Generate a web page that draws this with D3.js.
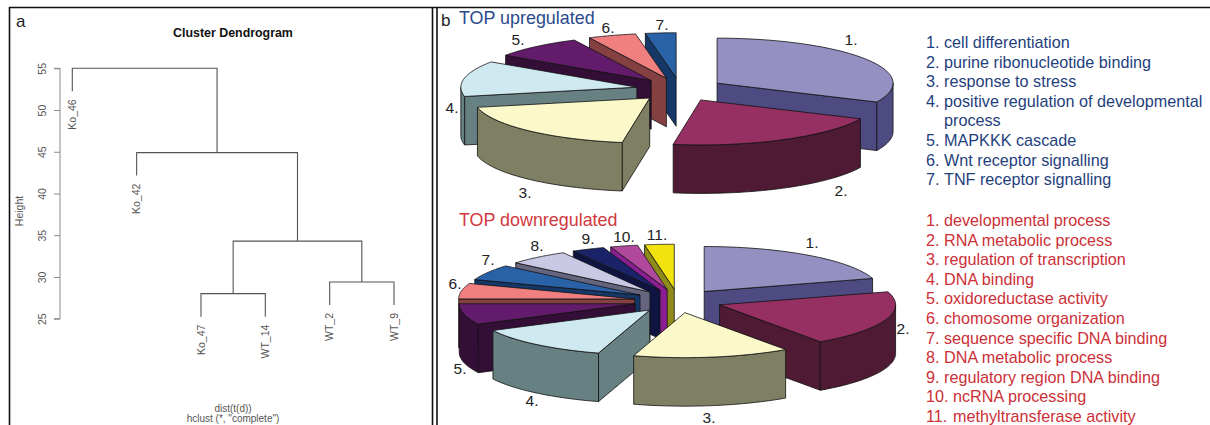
<!DOCTYPE html>
<html><head><meta charset="utf-8">
<style>html,body{margin:0;padding:0;background:#fff}svg{display:block}text{font-family:"Liberation Sans",Arial,sans-serif}</style>
<script src="https://cdn.jsdelivr.net/npm/d3@7"></script></head><body>
<svg id="c" width="1210" height="425"></svg>
<script>
// ---- data ----
const leafNames = ["Ko_46","Ko_42","Ko_47","WT_14","WT_2","WT_9"];
const merges = [["Ko_47","WT_14",28.0],["WT_2","WT_9",29.4],["m0","m1",34.3],["Ko_42","m2",44.9],["Ko_46","m3",55.0]];
const heightTicks = [25,30,35,40,45,50,55];
const upValues = [31.9,20.6,19.2,12.8,8.3,4.4,2.8];
const upTerms = ["cell differentiation","purine ribonucleotide binding","response to stress","positive regulation of developmental","process","MAPKKK cascade","Wnt receptor signalling","TNF receptor signalling"];
const downValues = [20.3,20.0,14.4,12.8,7.5,5.6,5.6,5.6,3.0,2.5,2.7];
const downTerms = ["developmental process","RNA metabolic process","regulation of transcription","DNA binding","oxidoreductase activity","chomosome organization","sequence specific DNA binding","DNA metabolic process","regulatory region DNA binding","ncRNA processing","methyltransferase activity"];

// ---- styles / layout ----
const topCol  = ["#9490c2","#973062","#fbf8c9","#cfe9f1","#631c6b","#f08080","#2a62a8","#c9c9e6","#1b2368","#b0489c","#f2e30f"];
const wallCol = ["#4d4b82","#4f1a34","#7f7f63","#678183","#330e37","#854042","#153868","#65657f","#0f1440","#8a1e92","#8f8b1a"];
const upLabelXY = [[851,39],[841,190],[525,192],[452,107],[518,39],[608,27],[662,24]];
const downLabelXY = [[812,242],[903,328],[709,417],[532,400],[460,368],[455,283],[488,259],[537,245],[588,238],[624,236],[657,234]];
const svg = d3.select("#c");

// ---- frames ----
const frame = svg.append("g").attr("fill","none").attr("stroke","#111").attr("stroke-width",1.6);
frame.append("path").attr("d",d3.line()([[9.5,425],[9.5,7.5],[1210,7.5]]));
frame.append("path").attr("d",d3.line()([[432.5,7.5],[432.5,425]]));
frame.append("path").attr("d",d3.line()([[437,7.5],[437,425]]));

// ---- panel a: dendrogram ----
const x = d3.scalePoint().domain(leafNames).range([72.3,394]);
const y = d3.scaleLinear().domain([25,55]).range([318.7,68.3]);
const pos = {}; leafNames.forEach(n=>pos[n]={x:x(n),leaf:true});
const hang = 23;
const gd = svg.append("g");
gd.append("text").text("a").attr("x",16).attr("y",27).attr("font-size",17).attr("fill","#222");
gd.append("text").text("Cluster Dendrogram").attr("x",233).attr("y",37).attr("text-anchor","middle")
  .attr("font-size",12.4).attr("font-weight","bold").attr("fill","#111");
const axis = gd.append("g").attr("transform","translate(60,0)")
  .call(d3.axisLeft(y).tickValues(heightTicks).tickSize(6).tickPadding(5));
axis.selectAll("path,line").attr("stroke","#8a8a8a").attr("stroke-width",1);
axis.select(".domain").attr("d",`M-6,${y(55)}H0V${y(25)}H-6`);
axis.selectAll("text").attr("transform","rotate(-90)").attr("text-anchor","middle")
  .attr("x",0).attr("dy",null).attr("y",-14).attr("font-size",10.5).attr("font-family",'"Liberation Sans"').attr("fill","#555");
gd.append("text").text("Height").attr("transform","translate(23,211) rotate(-90)").attr("text-anchor","middle").attr("font-size",10.5).attr("fill","#555");
merges.forEach((m,i)=>{
  const a=pos[m[0]], b=pos[m[1]], h=y(m[2]);
  const end=n=>n.leaf?h+hang:n.y;
  [a,b].forEach(n=>{ if(n.leaf){ n.y=h+hang; } });
  gd.append("path").attr("fill","none").attr("stroke","#555").attr("stroke-width",1.1)
    .attr("d",d3.line()([[a.x,end(a)],[a.x,h],[b.x,h],[b.x,end(b)]]));
  pos["m"+i]={x:(a.x+b.x)/2,y:h};
});
leafNames.forEach(n=>{
  gd.append("text").text(n).attr("transform",`translate(${pos[n].x+3.8},${pos[n].y+8}) rotate(-90)`)
    .attr("text-anchor","end").attr("font-size",10.5).attr("fill","#555");
});
gd.append("text").text("dist(t(d))").attr("x",233).attr("y",411.5).attr("text-anchor","middle").attr("font-size",10).attr("fill","#555");
gd.append("text").text('hclust (*, "complete")').attr("x",233).attr("y",422).attr("text-anchor","middle").attr("font-size",10).attr("fill","#555");

// ---- panel b: exploded 3-D pies ----
function pie3d(values, cx, cy, labelXY){
  const rx=176, ry=45, depth=48.5, ex=44, ey=11.8;
  const g=svg.append("g").attr("stroke","#111").attr("stroke-width",0.8).attr("stroke-linejoin","round");
  const line=d3.line();
  const arcs=d3.pie().sort(null).value(d=>d)(values);
  const order=arcs.map((a,i)=>({a,i,mid:(a.startAngle+a.endAngle)/2}))
    .sort((p,q)=>(-Math.cos(p.mid))-(-Math.cos(q.mid)));
  order.forEach(({a,i,mid})=>{
    const ax=cx+ex*Math.sin(mid), ay=cy-ey*Math.cos(mid);
    const P=t=>[ax+rx*Math.sin(t), ay-ry*Math.cos(t)];
    const samples=(t0,t1)=>d3.range(0,41).map(k=>P(t0+(t1-t0)*k/40));
    const down=p=>[p[0],p[1]+depth];
    const s=g.append("g");
    const apex=[ax,ay];
    const wall=(t)=>{const e=P(t);
      s.append("path").attr("fill",wallCol[i]).attr("d",line([apex,e,down(e),down(apex)])+"Z");};
    if(Math.sin(a.endAngle)>0.001) wall(a.endAngle);
    if(Math.sin(a.startAngle)<-0.001) wall(a.startAngle);
    const v0=Math.max(a.startAngle,Math.PI/2), v1=Math.min(a.endAngle,Math.PI*1.5);
    if(v1>v0){
      const top=samples(v0,v1);
      s.append("path").attr("fill",wallCol[i]).attr("d",line(top.concat(top.slice().reverse().map(down)))+"Z");
    }
    s.append("path").attr("fill",topCol[i]).attr("d",line([apex].concat(samples(a.startAngle,a.endAngle)))+"Z");
  });
  labelXY.forEach((p,i)=>svg.append("text").text((i+1)+".").attr("x",p[0]).attr("y",p[1]+5.5)
    .attr("text-anchor","middle").attr("font-size",15.5).attr("fill","#222"));
}
pie3d(upValues,680,89.5,upLabelXY);
pie3d(downValues,678,301,downLabelXY);

svg.append("text").text("b").attr("x",441).attr("y",25.5).attr("font-size",17).attr("fill","#222");
svg.append("text").text("TOP upregulated").attr("x",459).attr("y",24).attr("font-size",17.9).attr("fill","#2b4a8c");
svg.append("text").text("TOP downregulated").attr("x",459).attr("y",226).attr("font-size",17.9).attr("fill","#d2393f");

// ---- term lists ----
const rowH=19.6, fs=16.2;
let n=0;
upTerms.forEach((t,i)=>{
  const cont=t==="process";
  if(!cont){ n++; svg.append("text").text(n+".").attr("x",926).attr("y",48+i*rowH).attr("font-size",fs).attr("fill","#1f3f7c"); }
  svg.append("text").text(t).attr("x",944).attr("y",48+i*rowH).attr("font-size",fs).attr("fill","#1f3f7c");
});
downTerms.forEach((t,i)=>{
  svg.append("text").text((i+1)+".").attr("x",926).attr("y",226+i*rowH).attr("font-size",fs).attr("fill","#cc3037");
  svg.append("text").text(t).attr("x",i>=9?953:944).attr("y",226+i*rowH).attr("font-size",fs).attr("fill","#cc3037");
});
</script></body></html>
